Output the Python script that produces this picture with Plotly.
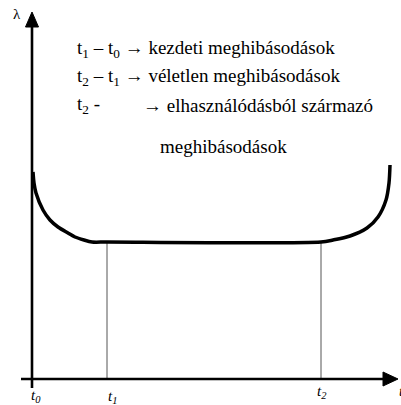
import plotly.graph_objects as go

# ---- data (time units along t, failure rate lambda) ----
time_marks = [0, 75, 289]              # t0, t1, t2
time_labels = ["t<sub>0</sub>", "t<sub>1</sub>", "t<sub>2</sub>"]
curve_t = [1, 2, 4, 11, 18, 26, 36, 43, 52, 60, 75,
           289, 301, 318, 335, 346, 354, 357, 358]
curve_lambda = [207, 196, 186, 169, 159, 152, 146, 142, 139, 137, 137,
                137, 139, 143, 151, 162, 179, 196, 214]
flat_lambda = 137
legend_lines = [
    "t<sub>1</sub> – t<sub>0</sub> → kezdeti meghibásodások",
    "t<sub>2</sub> – t<sub>1</sub> → véletlen meghibásodások",
]
line3_left = "t<sub>2</sub> -"
line3_right = "→ elhasználódásból származó"
line4 = "meghibásodások"

# ---- layout constants ----
W, H = 401, 405
X0PX, Y0PX = 32, 379
x_axis_start, x_axis_end = -11, 351
y_axis_bottom, y_axis_top = -9, 352
arrow_len, arrow_half = 15, 7

fig = go.Figure()

# vertical guide lines at t1, t2
for tm in time_marks[1:]:
    fig.add_trace(go.Scatter(x=[tm, tm], y=[0, flat_lambda], mode="lines",
                             line=dict(color="#555555", width=1), hoverinfo="skip"))

# axes
fig.add_trace(go.Scatter(x=[x_axis_start, x_axis_end], y=[0, 0], mode="lines",
                         line=dict(color="black", width=2.6), hoverinfo="skip"))
fig.add_trace(go.Scatter(x=[0, 0], y=[y_axis_bottom, y_axis_top], mode="lines",
                         line=dict(color="black", width=2.6), hoverinfo="skip"))
# arrowheads
fig.add_trace(go.Scatter(
    x=[x_axis_end, x_axis_end, x_axis_end + arrow_len, x_axis_end],
    y=[-arrow_half, arrow_half, 0, -arrow_half],
    mode="lines", fill="toself", fillcolor="black",
    line=dict(color="black", width=1), hoverinfo="skip"))
fig.add_trace(go.Scatter(
    x=[-arrow_half + 0.5, arrow_half - 0.5, 0, -arrow_half + 0.5],
    y=[y_axis_top, y_axis_top, y_axis_top + arrow_len, y_axis_top],
    mode="lines", fill="toself", fillcolor="black",
    line=dict(color="black", width=1), hoverinfo="skip"))

# bathtub curve
fig.add_trace(go.Scatter(x=curve_t, y=curve_lambda, mode="lines",
                         line=dict(color="black", width=3.5, shape="spline", smoothing=0.8),
                         hoverinfo="skip"))

serif = "Liberation Serif"
FS = 19
ann = []
ys = [330, 302]
for txt, yy in zip(legend_lines, ys):
    ann.append(dict(x=43, y=yy, text=txt, xanchor="left", yanchor="middle",
                    showarrow=False, font=dict(family=serif, size=FS, color="black")))
ann.append(dict(x=43, y=274, text=line3_left, xanchor="left", yanchor="middle",
                showarrow=False, font=dict(family=serif, size=FS, color="black")))
ann.append(dict(x=109, y=274, text=line3_right, xanchor="left", yanchor="middle",
                showarrow=False, font=dict(family=serif, size=FS, color="black")))
ann.append(dict(x=126, y=233, text=line4, xanchor="left", yanchor="middle",
                showarrow=False, font=dict(family=serif, size=FS, color="black")))
# lambda label
ann.append(dict(x=-15, y=365, text="λ", xanchor="center", yanchor="middle",
                showarrow=False, font=dict(family=serif, size=15, color="black")))
# time labels
label_dy = [-17, -18, -13]
label_dx = [4, 5, 1]
for tm, lab, dy, dx in zip(time_marks, time_labels, label_dy, label_dx):
    ann.append(dict(x=tm + dx, y=dy, text="<i>" + lab + "</i>", xanchor="center",
                    yanchor="middle", showarrow=False,
                    font=dict(family=serif, size=15, color="black")))
ann.append(dict(x=369, y=-12, text="<i>t</i>", xanchor="center", yanchor="middle",
                showarrow=False, font=dict(family=serif, size=15, color="black")))

fig.update_layout(
    width=W, height=H, autosize=False,
    margin=dict(l=0, r=0, t=0, b=0),
    paper_bgcolor="white", plot_bgcolor="white",
    showlegend=False,
    font=dict(family=serif),
    xaxis=dict(range=[-X0PX, W - X0PX], visible=False, fixedrange=True),
    yaxis=dict(range=[Y0PX - H, Y0PX], visible=False, fixedrange=True),
    annotations=ann,
)

fig.write_html("out.html", config={"displayModeBar": False},
               post_script="document.body.style.margin='0';document.body.style.overflow='hidden';")
